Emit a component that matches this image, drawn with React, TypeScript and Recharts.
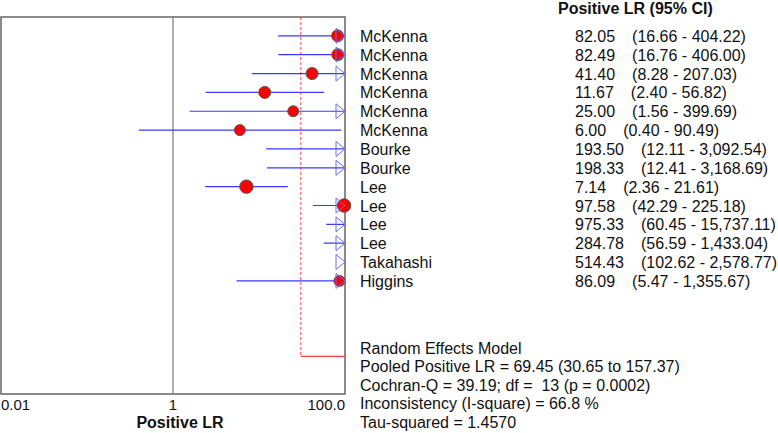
import { ScatterChart, Scatter, XAxis, YAxis, ReferenceLine, ReferenceArea } from 'recharts';

const studies = ['McKenna', 'McKenna', 'McKenna', 'McKenna', 'McKenna', 'McKenna', 'Bourke', 'Bourke', 'Lee', 'Lee', 'Lee', 'Lee', 'Takahashi', 'Higgins'];
const lr = [82.05, 82.49, 41.4, 11.67, 25.0, 6.0, 193.5, 198.33, 7.14, 97.58, 975.33, 284.78, 514.43, 86.09];
const lower = [16.66, 16.76, 8.28, 2.4, 1.56, 0.4, 12.11, 12.41, 2.36, 42.29, 60.45, 56.59, 102.62, 5.47];
const upper = [404.22, 406.0, 207.03, 56.82, 399.69, 90.49, 3092.54, 3168.69, 21.61, 225.18, 15737.11, 1433.04, 2578.77, 1355.67];
const dotRadius = [6, 6, 6, 6, 5.5, 5.5, 6, 6, 6.7, 6.7, 6, 6, 6, 5.5];
const xTicks = [0.01, 1, 100];
const pooled = { lr: 69.45, lower: 30.65, upper: 157.37 };
const summary = [
  'Random Effects Model',
  'Pooled Positive LR = 69.45 (30.65 to 157.37)',
  'Cochran-Q = 39.19; df =  13 (p = 0.0002)',
  'Inconsistency (I-square) = 66.8 %',
  'Tau-squared = 1.4570',
];

const XMIN = xTicks[0];
const XMAX = xTicks[xTicks.length - 1];
const POOLED_ROW = 17;

const fmt = (v: number) => v.toLocaleString('en-US', { minimumFractionDigits: 2, maximumFractionDigits: 2 });

const rows = studies.map((name, i) => ({
  x: XMAX,
  y: i,
  name,
  value: fmt(lr[i]),
  ci: `(${fmt(lower[i])} - ${fmt(upper[i])})`,
}));
const dots = lr.map((v, i) => ({ x: v, y: i, r: dotRadius[i] })).filter(d => d.x <= XMAX);
const arrows = upper.map((v, i) => ({ x: XMAX, y: i, over: v > XMAX })).filter(d => d.over);

const font = '"Liberation Sans", Arial, sans-serif';

const AxisTick = (props: any) => {
  const { x, y, payload, index } = props;
  const anchor = index === 0 ? 'start' : index === xTicks.length - 1 ? 'end' : 'middle';
  const label = payload.value === XMAX ? '100.0' : String(payload.value);
  return (
    <text x={x} y={y + 16} textAnchor={anchor} fontSize={15} fill="#111" fontFamily={font}>
      {label}
    </text>
  );
};

export default function App() {
  return (
    <div style={{ position: 'absolute', left: 0, top: 0, width: 778, height: 433, background: '#fff', fontFamily: font }}>
      <ScatterChart width={778} height={433} margin={{ top: 17, right: 433, bottom: 0, left: 1 }}>
        <XAxis
          type="number"
          dataKey="x"
          scale="log"
          domain={[XMIN, XMAX]}
          ticks={xTicks}
          interval={0}
          tick={<AxisTick />}
          tickLine={false}
          axisLine={false}
          tickSize={0}
          tickMargin={0}
          height={39}
        />
        <YAxis type="number" dataKey="y" domain={[-1, 19]} reversed hide />
        <ReferenceArea x1={XMIN} x2={XMAX} y1={-1} y2={19} fill="none" stroke="#666" strokeWidth={1.5} />
        <ReferenceLine x={1} stroke="#777" strokeWidth={1.2} />
        <ReferenceLine
          segment={[{ x: pooled.lower, y: -1 }, { x: pooled.lower, y: POOLED_ROW }]}
          stroke="#ff4040"
          strokeDasharray="3 2"
        />
        <ReferenceLine
          segment={[{ x: pooled.lower, y: POOLED_ROW }, { x: pooled.upper, y: POOLED_ROW }]}
          stroke="#ff4040"
          strokeWidth={1.2}
          ifOverflow="hidden"
        />
        <Scatter
          data={dots}
          isAnimationActive={false}
          shape={(p: any) => <circle cx={p.cx} cy={p.cy} r={p.payload.r} fill="#ff0000" stroke="#555" strokeWidth={1} />}
        />
        {lower.map((lo, i) => (
          <ReferenceLine
            key={i}
            segment={[{ x: lo, y: i }, { x: upper[i], y: i }]}
            stroke="#3a3aff"
            strokeWidth={1.2}
            ifOverflow="hidden"
          />
        ))}
        <Scatter
          data={arrows}
          isAnimationActive={false}
          shape={(p: any) => (
            <polygon
              points={`${p.cx - 9},${p.cy - 7.5} ${p.cx},${p.cy} ${p.cx - 9},${p.cy + 7.5}`}
              fill="none"
              stroke="#6a6aff"
              strokeWidth={1}
            />
          )}
        />
        <Scatter
          data={rows}
          isAnimationActive={false}
          shape={(p: any) => (
            <g fontFamily={font} fontSize={16} fill="#111">
              <text x={p.cx + 15} y={p.cy + 6}>{p.payload.name}</text>
              <text x={p.cx + 230} y={p.cy + 6}>
                {p.payload.value}
                <tspan dx={17}>{p.payload.ci}</tspan>
              </text>
            </g>
          )}
        />
        <text x={558} y={14} fontFamily={font} fontSize={16} fontWeight="bold" fill="#111">Positive LR (95% CI)</text>
        {summary.map((s, i) => (
          <text key={i} x={360} y={353.7 + i * 18.5} fontFamily={font} fontSize={16} fill="#111" style={{ whiteSpace: 'pre' }}>
            {s}
          </text>
        ))}
        <text x={180} y={428} textAnchor="middle" fontFamily={font} fontSize={16} fontWeight="bold" fill="#111">Positive LR</text>
      </ScatterChart>
    </div>
  );
}
